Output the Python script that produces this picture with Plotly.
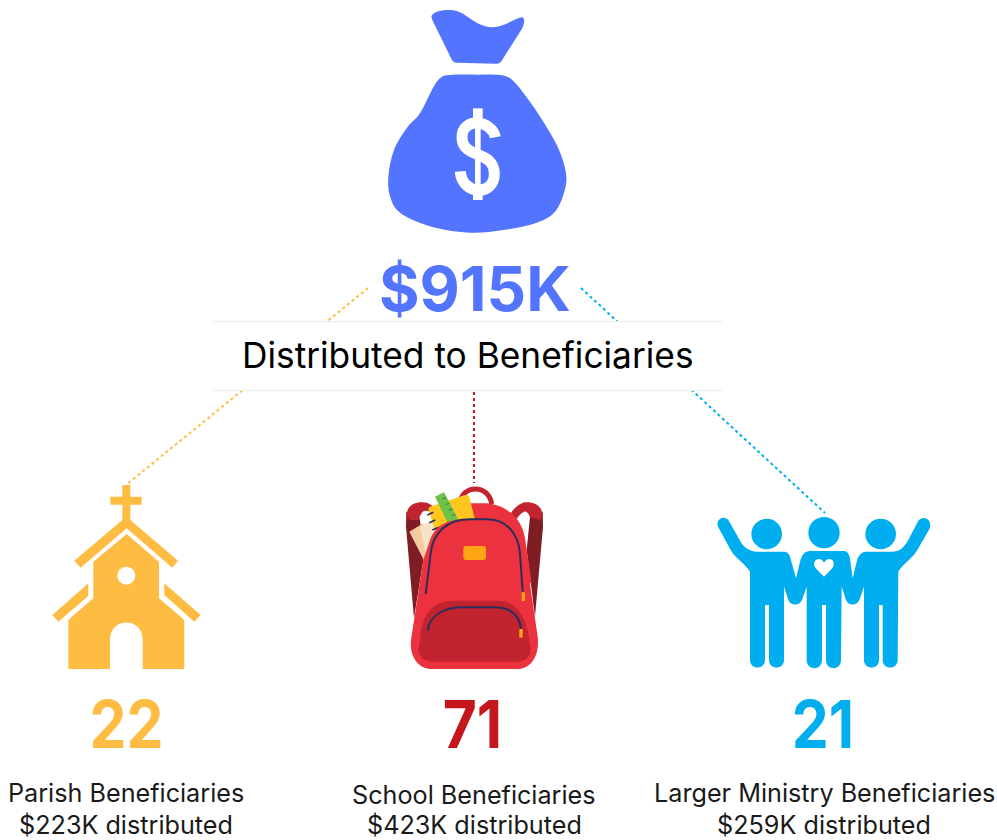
import re
import json
import plotly.graph_objects as go

total_label = "$915K"
subtitle = "Distributed to Beneficiaries"
counts = ["22", "71", "21"]
names = ["Parish Beneficiaries", "School Beneficiaries", "Larger Ministry Beneficiaries"]
amounts = ["$223K distributed", "$423K distributed", "$259K distributed"]

BLUE = "#5374FF"; ORANGE = "#FFBC42"; RED = "#C4161C"; CYAN = "#00AEEF"
colors = [ORANGE, RED, CYAN]
FONT = "Inter"

def tr(d, ox, oy):
    """Zoomed icon coordinates (3x) to page pixels."""
    i = [0]
    def f(m):
        v = float(m.group(0)) / 3 + (ox if i[0] % 2 == 0 else oy)
        i[0] += 1
        return f"{v:.2f}"
    return re.sub(r"-?\d+(\.\d+)?", f, d)

def smooth(pts):
    n = len(pts)
    d = f"M {pts[0][0]} {pts[0][1]}"
    for k in range(n):
        p0, p1, p2, p3 = pts[k-1], pts[k], pts[(k+1) % n], pts[(k+2) % n]
        c1 = (p1[0] + (p2[0]-p0[0])/6, p1[1] + (p2[1]-p0[1])/6)
        c2 = (p2[0] - (p3[0]-p1[0])/6, p2[1] - (p3[1]-p1[1])/6)
        d += f" C {c1[0]:.1f} {c1[1]:.1f} {c2[0]:.1f} {c2[1]:.1f} {p2[0]} {p2[1]}"
    return d + " Z"

shapes = []
def fill(d, color, ox, oy):
    shapes.append(dict(type="path", path=tr(d, ox, oy), fillcolor=color, line=dict(width=0), xref="x", yref="y"))
def stroke(d, color, w, ox, oy):
    shapes.append(dict(type="path", path=tr(d, ox, oy), line=dict(color=color, width=w), xref="x", yref="y"))
def circ(cx, cy, r, color, ox, oy):
    shapes.append(dict(type="circle", x0=ox+(cx-r)/3, x1=ox+(cx+r)/3, y0=oy+(cy-r)/3, y1=oy+(cy+r)/3,
                       fillcolor=color, line=dict(width=0), xref="x", yref="y"))

# connectors
for (x0, y0, x1, y1), c in zip([(368, 288, 126, 485), (474, 380, 474, 483), (581, 288, 825, 513)], colors):
    shapes.append(dict(type="line", x0=x0, y0=y0, x1=x1, y1=y1, xref="x", yref="y",
                       line=dict(color=c, width=2, dash="dot")))
# subtitle band
shapes.append(dict(type="rect", x0=213, x1=722, y0=321, y1=391, fillcolor="white", line=dict(width=0), xref="x", yref="y"))
for y in (321.5, 390.5):
    shapes.append(dict(type="line", x0=213, x1=722, y0=y, y1=y, line=dict(color="#ECECEC", width=1), xref="x", yref="y"))

# money bag
ox, oy = 370, 0
fill("M 184 50 C 186 36 215 28 245 30 C 290 34 310 78 365 82 C 400 84 435 54 455 52 C 466 52 464 70 455 88 L 395 182 C 390 190 385 191 375 191 L 262 188 C 252 188 248 184 244 176 L 188 62 Z", BLUE, ox, oy)
fill(smooth([(240,225),(320,224),(395,226),(430,243),(470,292),(520,365),(565,445),(588,520),(583,575),(555,635),(500,668),(400,690),(300,698),(190,682),(95,642),(62,595),(55,530),(72,450),(112,382),(150,340),(190,262),(212,233)]), BLUE, ox, oy)
# dollar glyph of the bag icon
stroke("M 376 412 C 366 360 276 350 276 412 C 276 478 373 448 373 522 C 373 590 275 585 271 514", "white", 11, ox, oy)
fill("M 309 325 L 338 325 L 338 355 L 309 355 Z", "white", ox, oy)
fill("M 309 570 L 338 570 L 338 600 L 309 600 Z", "white", ox, oy)
fill("M 315 350 L 332 350 L 332 575 L 315 575 Z", "white", ox, oy)

# church
ox, oy = 30, 470
fill("M 277 45 L 301 45 L 301 80 L 335 80 L 335 104 L 301 104 L 301 150 L 444 272 L 427 293 L 290 175 L 152 293 L 133 272 L 277 150 L 277 104 L 241 104 L 241 80 L 277 80 Z", ORANGE, ox, oy)
fill("M 290 192 L 387 275 L 387 385 L 463 450 L 463 597 L 338 597 L 338 510 C 338 440 240 440 240 510 L 240 597 L 115 597 L 115 450 L 190 385 L 190 275 Z", ORANGE, ox, oy)
circ(289, 317, 27, "white", ox, oy)
fill("M 175 340 L 175 378 L 85 455 L 67 435 Z", ORANGE, ox, oy)
fill("M 403 340 L 512 435 L 493 455 L 403 375 Z", ORANGE, ox, oy)

# backpack
ox, oy = 390, 470
DK = "#7F1D25"; MID = "#C1232F"; BODY = "#EB323E"; NAVY = "#2B2D5B"; TAG = "#FFA412"
stroke("M 209 102 C 215 42 297 42 305 102", MID, 5, ox, oy)
fill("M 49 125 L 48 170 L 72 445 L 105 240 L 88 140 Z", DK, ox, oy)
fill("M 458 125 L 459 170 L 435 440 L 410 240 L 420 140 Z", DK, ox, oy)
fill("M 49 140 C 50 105 75 95 100 97 C 115 98 125 104 132 112 L 130 132 C 118 122 105 120 98 125 C 92 132 88 142 84 150 L 60 150 Z", MID, ox, oy)
fill("M 458 140 C 458 105 430 95 405 97 C 390 99 372 115 362 130 L 375 152 C 385 140 392 130 402 125 C 410 122 416 130 420 142 L 450 150 Z", MID, ox, oy)
fill("M 240 100 L 290 100 C 345 105 395 140 405 205 L 425 340 L 300 340 L 240 160 Z", BODY, ox, oy)
fill("M 58 185 L 100 160 L 130 230 L 108 283 Z", "#F4CBA0", ox, oy)
fill("M 90 172 L 125 150 L 145 190 L 113 275 Z", "#F8E3C8", ox, oy)
fill("M 115 118 C 116 112 120 110 126 108 L 225 75 C 235 73 238 80 240 88 L 255 150 L 170 170 L 135 180 Z", "#FFC61F", ox, oy)
fill("M 135 80 L 162 67 L 207 152 L 178 168 Z", "#6CC24A", ox, oy)
for seg in ["M 158 87 L 168 83", "M 168 104 L 178 99", "M 177 121 L 187 116", "M 186 138 L 196 133"]:
    stroke(seg, "#3E8E41", 1.3, ox, oy)
for seg in ["M 112 135 L 130 127", "M 118 158 L 136 150", "M 127 180 L 147 172"]:
    stroke(seg, NAVY, 1.6, ox, oy)
fill("M 122 205 C 135 170 170 147 225 147 L 300 147 C 360 147 395 180 403 225 L 443 500 C 450 560 420 597 385 597 L 125 597 C 85 597 58 560 63 510 L 100 270 Z", BODY, ox, oy)
fill("M 90 510 C 95 430 130 392 190 392 L 325 392 C 380 392 405 440 415 490 L 421 535 C 424 560 405 575 380 575 L 125 575 C 100 575 83 555 86 535 Z", MID, ox, oy)
stroke("M 107 372 L 122 250 C 128 190 170 148 240 148 L 290 148 C 350 148 385 190 390 250 L 398 365", NAVY, 2, ox, oy)
stroke("M 113 482 C 120 430 170 412 220 412 L 310 412 C 370 412 390 440 393 478", NAVY, 2, ox, oy)
fill("M 395 367 L 405 367 L 405 393 L 395 393 Z", TAG, ox, oy)
fill("M 388 477 L 398 477 L 398 503 L 388 503 Z", TAG, ox, oy)
fill("M 228 228 L 280 228 C 286 228 288 232 288 236 L 288 262 C 288 268 284 270 280 270 L 228 270 C 222 270 220 266 220 262 L 220 236 C 220 232 222 228 228 228 Z", TAG, ox, oy)

# people
ox, oy = 700, 490
circ(200, 132, 46, CYAN, ox, oy)
circ(372, 128, 47, CYAN, ox, oy)
circ(542, 132, 46, CYAN, ox, oy)
fill("M 55 112 C 45 95 65 72 85 90 L 122 155 C 135 178 155 185 175 185 L 250 185 C 262 185 266 190 270 200 L 288 265 L 300 215 C 305 195 315 183 330 183 L 430 183 C 442 183 446 190 450 205 L 458 265 L 470 215 C 475 195 485 185 500 185 L 575 185 C 600 185 612 170 622 155 L 655 92 C 672 72 700 92 688 118 L 655 175 C 640 205 610 220 595 245 L 593 510 C 593 540 548 540 548 510 L 548 345 L 537 345 L 537 510 C 537 540 492 540 492 510 L 492 290 L 478 330 C 470 348 445 348 438 330 L 425 290 L 423 510 C 423 543 378 543 378 510 L 378 345 L 366 345 L 366 510 C 366 543 320 543 320 510 L 320 290 L 306 330 C 298 348 272 348 265 330 L 252 290 L 252 510 C 252 540 207 540 207 510 L 207 345 L 195 345 L 195 510 C 195 540 150 540 150 510 L 150 245 C 135 220 105 205 92 180 Z", CYAN, ox, oy)
fill("M 372 260 L 347 235 C 332 212 360 195 372 218 C 385 195 412 212 397 235 Z", "white", ox, oy)

def note(x, y, text, size, color, bold=False, family=FONT):
    return dict(x=x, y=y, xref="x", yref="y", text=text, showarrow=False, xanchor="center", yanchor="middle",
                font=dict(family=family, size=size, color=color, weight=700 if bold else 400))

annotations = [
    note(475, 288, total_label, 62, BLUE, True),
    note(468, 355, subtitle, 35.3, "#000000"),
]
for cx, cy, name_y, i in [(126, 724, 793, 0), (472, 724, 795, 1), (823, 724, 793, 2)]:
    annotations.append(note(cx, cy, counts[i], 66, colors[i], True))
    annotations.append(note({0: 126, 1: 474, 2: 824}[i], name_y, names[i], 25.2, "#1a1a1a"))
    annotations.append(note({0: 126, 1: 474, 2: 824}[i], 824.5, amounts[i], 25.2, "#1a1a1a"))

fig = go.Figure()
fig.update_layout(
    width=997, height=840, margin=dict(l=0, r=0, t=0, b=0),
    paper_bgcolor="white", plot_bgcolor="white", showlegend=False,
    xaxis=dict(range=[0, 997], visible=False, fixedrange=True),
    yaxis=dict(range=[840, 0], visible=False, fixedrange=True),
    shapes=shapes, annotations=annotations,
)
post = """
document.body.style.margin='0';
document.documentElement.style.overflow='hidden';
var counts=%s;
document.querySelectorAll('.annotation-text').forEach(function(t){
  if(counts.indexOf(t.textContent)>=0){
    t.style.transformBox='fill-box';
    t.style.transformOrigin='center';
    t.style.transform='scaleX(0.89)';
  }
});
""" % json.dumps(counts)
fig.write_html("out.html", config={"displayModeBar": False}, post_script=post)
